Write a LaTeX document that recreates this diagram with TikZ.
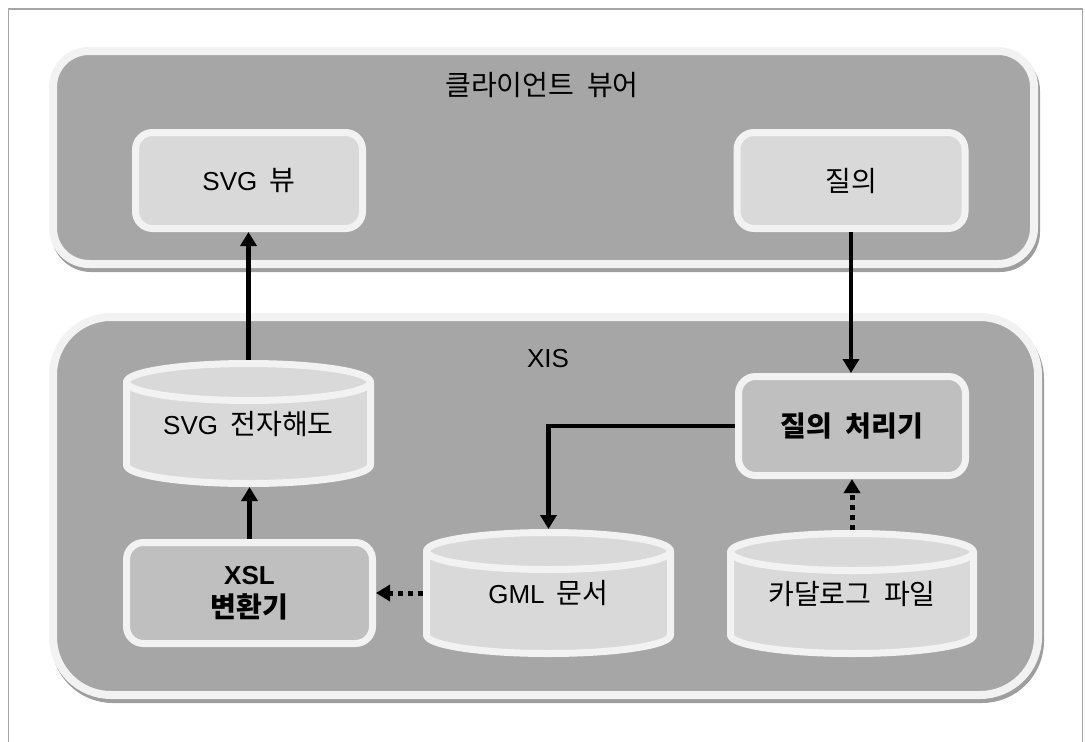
\documentclass[tikz,border=0pt]{standalone}
\usepackage{fontspec}
\setmainfont{Liberation Sans}[WordSpace=1.7]
\newfontfamily\kr{Noto Sans CJK KR}[Scale=1.08, WordSpace=2]
\usetikzlibrary{arrows.meta}

\definecolor{panelgray}{HTML}{A6A6A6}
\definecolor{shadowgray}{HTML}{9E9E9E}
\definecolor{rim}{HTML}{F2F2F2}
\definecolor{lightfill}{HTML}{D9D9D9}
\definecolor{midfill}{HTML}{BFBFBF}
\definecolor{framegray}{HTML}{A6A6A6}

% cylinder (database) drawn between left/top/right/bottom outer edges
\newcommand\drawcyl[6]{%
  \pgfmathsetmacro\cylL{#2+3.5}%
  \pgfmathsetmacro\cylR{#4-3.5}%
  \pgfmathsetmacro\cylRX{(#4-#2-7)/2}%
  \pgfmathsetmacro\cylT{#3+3.5+18.5}%
  \pgfmathsetmacro\cylB{#5-3.5-18.5}%
  \pgfmathsetmacro\cylW{#4-#2}%
  \pgfmathsetmacro\cylH{#5-#3}%
  \pgfmathsetmacro\cylCX{(#2+#4)/2}%
  \pgfmathsetmacro\cylCY{(#3+#5)/2}%
  \path[cylbody] (\cylL,\cylT) -- (\cylL,\cylB)
    arc[start angle=180,end angle=0,x radius=\cylRX,y radius=18.5]
    -- (\cylR,\cylT)
    arc[start angle=0,end angle=-180,x radius=\cylRX,y radius=18.5] -- cycle;
  \draw[cylrim] (\cylL,\cylT) arc[start angle=180,end angle=0,x radius=\cylRX,y radius=18.5];
  \node[cylnode, minimum width=\cylW pt, minimum height=\cylH pt] (#1) at (\cylCX,\cylCY) {#6};
}

\begin{document}
\begin{tikzpicture}[x=1pt,y=-1pt,
  txt/.style={font=\fontsize{26pt}{33pt}\selectfont, text=black},
  panel/.style={fill=panelgray, draw=rim, line width=8pt,
    preaction={fill=shadowgray, draw=shadowgray, transform canvas={xshift=2pt,yshift=-4pt}}},
  box/.style={txt, draw=rim, line width=7pt, rounded corners=17pt, fill=lightfill,
    align=center, inner sep=0pt},
  darkbox/.style={box, fill=midfill, font=\fontsize{26pt}{33pt}\selectfont\bfseries},
  cylbody/.style={fill=lightfill, draw=rim, line width=7pt, line join=round},
  cylrim/.style={draw=rim, line width=7pt},
  cylnode/.style={txt, inner sep=0pt, outer sep=0pt, draw=none},
  arr/.style={line width=4.5pt, draw=black, -{Triangle[width=16pt,length=14pt]}},
  dotarr/.style={arr, line width=5pt, dash pattern=on 5pt off 5pt},
]
\useasboundingbox (0,0) rectangle (1085,742);

% outer frame
\draw[framegray, line width=1.5pt] (8.5,742) -- (8.5,9) -- (1082.5,9) -- (1082.5,742);

% containers
\node[panel, rounded corners=36pt, minimum width=981pt, minimum height=213pt] (client) at (543.5,157.5) {};
\node[txt] (clienttitle) at (542,85) {\kr 클라이언트 뷰어};

\node[panel, rounded corners=58pt, minimum width=985pt, minimum height=378pt] (xis) at (545.5,506) {};
\node[txt] (xistitle) at (548,359) {XIS};

% client viewer boxes
\node[box, minimum width=227pt, minimum height=96pt] (svgview) at (249,180.5) {SVG {\kr 뷰}};
\node[box, minimum width=228pt, minimum height=96pt] (query) at (851,180.5) {\kr 질의};

% XIS components
\node[darkbox, minimum width=227pt, minimum height=99pt] (qproc) at (852,426) {\kr 질의 처리기};
\node[darkbox, minimum width=246pt, minimum height=101pt] (xsl) at (249.5,593) {XSL\\{\kr 변환기}};

\drawcyl{svgmap}{123}{360}{374}{487}{SVG {\kr 전자해도}}
\drawcyl{gml}{423}{529}{674}{657}{GML {\kr 문서}}
\drawcyl{catalog}{727}{530}{977}{657}{\kr 카달로그 파일}

% connectors
\draw[arr] (svgmap.north) -- (svgmap.north |- svgview.south);
\draw[arr] (xsl.north) -- (xsl.north |- svgmap.south);
\draw[arr] (query.south) -- (query.south |- qproc.north);
\draw[arr] (qproc.west) -| (gml.north);
\draw[dotarr] (gml.west) -- (xsl.east);
\draw[dotarr] (catalog.north) -- (qproc.south);
\end{tikzpicture}
\end{document}
